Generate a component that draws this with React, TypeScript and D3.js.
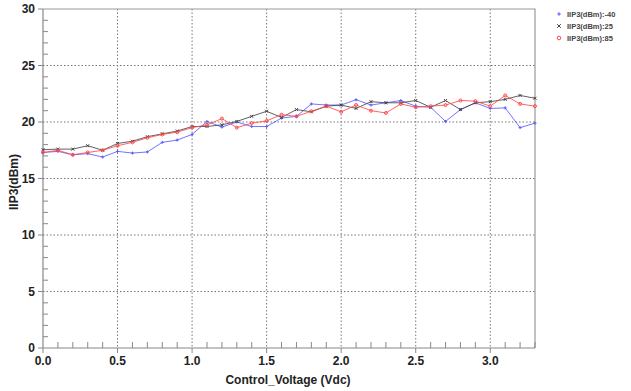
import React from "react";
import * as d3 from "d3";

const voltages: number[] = d3.range(34).map((i) => +(i * 0.1).toFixed(1));

const seriesM40: number[] = [17.3, 17.4, 17.1, 17.2, 16.9, 17.4, 17.25, 17.35, 18.2, 18.4, 18.9, 20.05, 19.55, 20.0, 19.6, 19.6, 20.35, 20.5, 21.6, 21.5, 21.5, 21.97, 21.5, 21.7, 21.9, 21.4, 21.3, 20.05, 21.1, 21.7, 21.2, 21.25, 19.5, 19.9];
const series25: number[] = [17.55, 17.6, 17.6, 17.9, 17.5, 18.1, 18.3, 18.7, 18.95, 19.2, 19.6, 19.6, 19.75, 20.05, 20.5, 20.95, 20.4, 21.1, 20.9, 21.4, 21.5, 21.2, 21.8, 21.7, 21.7, 21.9, 21.3, 21.9, 21.1, 21.7, 21.8, 22.0, 22.35, 22.1];
const series85: number[] = [17.3, 17.5, 17.1, 17.3, 17.5, 17.9, 18.2, 18.6, 18.9, 19.1, 19.5, 19.75, 20.3, 19.5, 19.9, 20.1, 20.65, 20.5, 20.95, 21.4, 20.9, 21.5, 21.0, 20.8, 21.6, 21.3, 21.4, 21.5, 21.9, 21.85, 21.4, 22.35, 21.6, 21.4];

const seriesNames: string[] = ["IIP3(dBm):-40", "IIP3(dBm):25", "IIP3(dBm):85"];
const xTicks: number[] = [0, 0.5, 1.0, 1.5, 2.0, 2.5, 3.0];
const yTicks: number[] = [0, 5, 10, 15, 20, 25, 30];

const W = 631, H = 391;
const L = 43, R = 535, T = 9, B = 348;

export default function App() {
  const x = d3.scaleLinear().domain([0, 3.3]).range([L, R]);
  const y = d3.scaleLinear().domain([0, 30]).range([B, T]);
  const line = d3.line<number>().x((_, i) => x(voltages[i])).y((d) => y(d));
  const series = [
    { name: seriesNames[0], data: seriesM40, color: "#5a5aff", marker: "plus" },
    { name: seriesNames[1], data: series25, color: "#444444", marker: "x" },
    { name: seriesNames[2], data: series85, color: "#ff4a4a", marker: "circle" },
  ];
  const minorX = d3.range(0, 34).map((i) => i * 0.1).filter((v) => Math.abs(v * 2 - Math.round(v * 2)) > 1e-6);
  const minorY = d3.range(0, 31).filter((v) => v % 5 !== 0);
  const font = "'Liberation Sans', Arial, sans-serif";

  const marker = (kind: string, cx: number, cy: number, color: string, key: any, s = 1.5) => {
    if (kind === "plus")
      return <path key={key} d={`M${cx - s},${cy}H${cx + s}M${cx},${cy - s}V${cy + s}`} stroke={color} strokeWidth={1} />;
    if (kind === "x")
      return <path key={key} d={`M${cx - s},${cy - s}L${cx + s},${cy + s}M${cx - s},${cy + s}L${cx + s},${cy - s}`} stroke={color} strokeWidth={1} />;
    return <circle key={key} cx={cx} cy={cy} r={s} fill="none" stroke={color} strokeWidth={1} />;
  };

  return (
    <svg width={W} height={H} style={{ position: "absolute", left: 0, top: 0, background: "#fff" }} fontFamily={font}>
      <rect x={0} y={0} width={W} height={H} fill="#fff" />
      {xTicks.filter((v) => v > 0).map((v) => (
        <line key={"gx" + v} x1={x(v)} x2={x(v)} y1={T} y2={B} stroke="#777" strokeWidth={1} strokeDasharray="1.5,2" />
      ))}
      {yTicks.filter((v) => v > 0 && v < 30).map((v) => (
        <line key={"gy" + v} x1={L} x2={R} y1={y(v)} y2={y(v)} stroke="#777" strokeWidth={1} strokeDasharray="1.5,2" />
      ))}
      <path d={`M${L},${T}H${R}V${B}`} fill="none" stroke="#999" strokeWidth={1.2} />
      <line x1={L} x2={L} y1={T} y2={B} stroke="#888" strokeWidth={1.2} />
      <line x1={L} x2={R} y1={B} y2={B} stroke="#888" strokeWidth={1.2} />
      {yTicks.map((v) => (
        <g key={"yt" + v}>
          <line x1={L - 5} x2={L} y1={y(v)} y2={y(v)} stroke="#888" />
          <text x={L - 8} y={y(v)} dy="0.35em" textAnchor="end" fontSize={12} fontWeight="bold" fill="#222">{v}</text>
        </g>
      ))}
      {minorY.map((v) => (
        <line key={"ym" + v} x1={L} x2={L + 5} y1={y(v)} y2={y(v)} stroke="#888" />
      ))}
      {xTicks.map((v) => (
        <g key={"xt" + v}>
          <line x1={x(v)} x2={x(v)} y1={B} y2={B + 5} stroke="#888" />
          <text x={x(v)} y={B + 17} textAnchor="middle" fontSize={12} fontWeight="bold" fill="#222">{v.toFixed(1)}</text>
        </g>
      ))}
      {minorX.map((v) => (
        <line key={"xm" + v} x1={x(v)} x2={x(v)} y1={B} y2={B - 6} stroke="#888" />
      ))}
      <text x={288} y={384} textAnchor="middle" fontSize={12} fontWeight="bold" fill="#222">Control_Voltage (Vdc)</text>
      <text transform={`translate(18,182) rotate(-90)`} textAnchor="middle" fontSize={12} fontWeight="bold" fill="#222">IIP3(dBm)</text>
      {series.map((s) => (
        <g key={s.name}>
          <path d={line(s.data) || ""} fill="none" stroke={s.color} strokeWidth={1} strokeOpacity={0.85} />
          {s.data.map((d, i) => marker(s.marker, x(voltages[i]), y(d), s.color, i))}
        </g>
      ))}
      {series.map((s, i) => (
        <g key={"lg" + i}>
          {marker(s.marker, 559, 14 + i * 12, s.color, "m" + i, 1.8)}
          <text x={567} y={14 + i * 12} dy="0.35em" fontSize={7.5} fontWeight="bold" fill="#444">{s.name}</text>
        </g>
      ))}
    </svg>
  );
}
